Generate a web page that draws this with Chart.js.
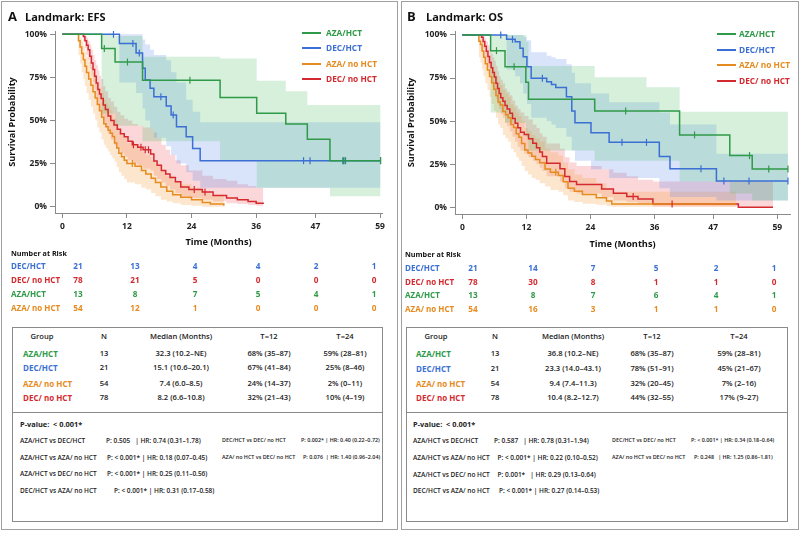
<!DOCTYPE html>
<html lang="en">
<head>
  <meta charset="UTF-8" />
  <title>Landmark EFS / OS</title>
  <script src="https://cdn.jsdelivr.net/npm/chart.js"></script>
  <style>
    body { margin: 0; width: 800px; height: 533px; background: #fff; position: relative; overflow: hidden;
           font-family: "Open Sans", "DejaVu Sans", sans-serif; }
    .panel { position: absolute; top: 1px; height: 529px; border: 1px solid #a0a0a0; box-sizing: border-box; }
    .box { position: absolute; border: 1px solid #8a8a8a; box-sizing: border-box; }
    .rule { position: absolute; height: 1px; background: #8a8a8a; }
    .plot { position: absolute; top: 0; height: 250px; }
    .t { position: absolute; white-space: pre; line-height: 1; font-weight: 700; }
    .key { position: absolute; height: 2px; width: 19px; }
  </style>
</head>
<body>
  <div class="panel" style="left:1px;width:397px"></div>
  <div class="panel" style="left:401px;width:398px"></div>
  <div class="box" style="left:12px;top:327px;width:371px;height:195px"></div>
  <div class="box" style="left:406px;top:327px;width:382px;height:195px"></div>
  <div class="rule" style="left:12px;top:412px;width:371px"></div>
  <div class="rule" style="left:406px;top:412px;width:382px"></div>
  <div class="plot" style="left:0;width:398px"><canvas id="efsChart"></canvas></div>
  <div class="plot" style="left:400px;width:400px"><canvas id="osChart"></canvas></div>

  <script>
    // ---- values (months, survival %) ----
    const groups = ['AZA/HCT', 'DEC/HCT', 'AZA/ no HCT', 'DEC/ no HCT'];
    const xTicks = [0, 12, 24, 36, 47, 59];
    const yTicks = [0, 25, 50, 75, 100];

    // Panel A: landmark EFS
    const efsAzaHctT = [0, 7.3, 9.8, 14.9, 29.3, 36.1, 41.5, 45.5, 49.7, 59.1];
    const efsAzaHctS = [100, 91.7, 83.9, 73.4, 63.3, 54.2, 48.0, 39.1, 26.7, 26.7];
    const efsAzaHctHi = [100, 100, 99, 87, 86, 73, 67, 59, 59, 59];
    const efsAzaHctLo = [100, 54, 47, 38, 26.5, 11, 11, 11, 6, 6];
    const efsAzaHctCens = [7.8, 12.1, 23.7, 52.2, 52.6, 59.1];

    const efsDecHctT = [0, 10.6, 13.7, 14.9, 15.4, 16.3, 17.0, 19.3, 20.2, 21.2, 23.0, 24.2, 25.6, 59.1];
    const efsDecHctS = [100, 94.7, 89.2, 80.3, 73.5, 68.7, 63.8, 58.4, 53.2, 46.4, 40.6, 33.8, 26.7, 26.7];
    const efsDecHctHi = [100, 100, 100, 97, 94, 91, 88, 85, 78, 72, 62, 55, 49, 49];
    const efsDecHctLo = [100, 72, 66, 57, 50, 45, 40, 35, 30, 25, 20, 15, 11, 11];
    const efsDecHctCens = [9.5, 13.1, 14.3, 18.3, 20.6, 44.8, 46.0, 52.1, 52.5, 59.1];

    const efsAzaNoT = [0, 3.0, 3.3, 3.6, 3.9, 4.2, 4.5, 4.9, 5.3, 5.7, 6.1, 6.5, 6.9, 7.3, 7.7, 8.1, 8.5, 8.9, 9.3, 9.7,
      10.1, 10.5, 11.0, 11.5, 12.0, 13.5, 14.7, 15.5, 16.5, 17.3, 18.3, 19.4, 20.5, 22.0, 24.0, 26.0, 27.5, 30.0];
    const efsAzaNoS = [100, 96.3, 92.6, 88.9, 85.2, 81.5, 77.8, 74.1, 70.4, 66.7, 63.0, 59.3, 55.6, 51.9, 48.1, 46.3, 44.4, 42.6, 40.7, 37.0,
      34.0, 31.0, 29.0, 27.0, 25.0, 23.5, 21.0, 19.0, 16.5, 14.0, 11.5, 9.0, 7.0, 5.5, 4.0, 2.5, 1.5, 0.5];
    const efsAzaNoHi = [100, 100, 98, 96, 93, 90, 87, 84, 81, 78, 75, 72, 69, 66, 62, 60, 58, 56, 54, 51,
      48, 44, 42, 40, 37, 35, 32, 30, 27, 24, 21, 18, 15, 13, 11, 9, 7, 5];
    const efsAzaNoLo = [100, 88, 83, 78, 74, 70, 66, 62, 58, 54, 50, 46, 43, 39, 36, 34, 32, 30, 28, 26,
      23, 20, 18, 16, 14, 13, 11, 10, 8, 6, 4, 3, 2, 1, 0.5, 0, 0, 0];
    const efsAzaNoCens = [13.0];

    const efsDecNoT = [0, 3.9, 4.2, 4.5, 4.8, 5.1, 5.4, 5.7, 6.0, 6.3, 6.6, 6.9, 7.2, 7.6, 8.0, 8.5, 9.0, 9.6, 10.2, 10.8,
      11.5, 12.2, 13.0, 14.0, 15.0, 16.4, 17.0, 17.6, 18.4, 19.2, 20.0, 21.0, 22.0, 23.5, 26.0, 28.0, 30.5, 32.5, 34.5, 36.0, 37.3];
    const efsDecNoS = [100, 98.7, 96.2, 93.6, 91.0, 87.2, 83.3, 79.5, 75.6, 71.8, 68.0, 65.4, 62.8, 59.0, 56.4, 52.6, 50.0, 47.4, 44.9, 42.3,
      40.5, 38.0, 36.0, 34.5, 33.0, 30.5, 26.5, 24.0, 21.0, 19.0, 17.0, 14.5, 11.5, 10.0, 8.5, 6.5, 5.0, 4.0, 3.0, 2.0, 1.5];
    const efsDecNoHi = [100, 100, 99, 98, 96, 94, 91, 88, 85, 82, 79, 76, 74, 70, 67, 63, 61, 58, 55, 53,
      51, 50, 48, 47, 46, 45, 43, 40, 36, 33, 30, 27, 24, 21, 18, 16, 15, 13, 12, 11, 11];
    const efsDecNoLo = [100, 96, 92, 88, 85, 80, 76, 72, 68, 63, 59, 56, 53, 49, 46, 42, 39, 36, 34, 31,
      29, 27, 25, 24, 22, 21, 18, 16, 14, 12, 10, 8, 6, 5, 4, 3, 2, 1.5, 1, 0.5, 0.3];
    const efsDecNoCens = [13.2, 14.6, 15.4, 16.0, 24.5, 26.5];

    // Panel B: landmark OS
    const osAzaHctT = [0, 5.3, 8.0, 11.9, 12.4, 24.8, 34.5, 40.7, 50.1, 54.3, 61.0];
    const osAzaHctS = [100, 90.9, 81.6, 72.5, 62.7, 55.9, 55.9, 42.0, 30.0, 22.2, 22.2];
    const osAzaHctHi = [100, 100, 100, 96, 82, 75.4, 69.6, 55.5, 55.5, 55.5, 55.5];
    const osAzaHctLo = [100, 55, 49, 41, 33, 27, 27, 15, 8, 4, 4];
    const osAzaHctCens = [6.4, 9.7, 30.6, 43.5, 53.8, 57.4, 61.0];

    const osDecHctT = [0, 8.3, 9.9, 10.8, 11.4, 12.1, 12.9, 15.8, 16.7, 17.5, 19.5, 20.5, 21.1, 24.1, 27.5, 36.9, 38.9, 47.6, 61.0];
    const osDecHctS = [100, 97.5, 96.0, 92.3, 87.4, 81.6, 74.9, 72.9, 71.2, 69.5, 64.2, 55.9, 49.1, 43.3, 37.7, 29.4, 22.4, 15.2, 15.2];
    const osDecHctHi = [100, 100, 100, 100, 99, 97, 90, 88, 87, 86, 83, 78, 72, 66, 61, 55, 48, 31, 31];
    const osDecHctLo = [100, 80, 76, 72, 66, 60, 52, 50, 48, 46, 41, 33, 27, 22, 17, 11, 6, 4, 4];
    const osDecHctCens = [7.2, 9.4, 15.0, 29.9, 34.5, 44.7, 49.0, 53.7, 61.0];

    const osAzaNoT = [0, 3.1, 3.4, 3.7, 4.0, 4.3, 4.7, 5.1, 5.5, 5.9, 6.3, 6.7, 7.1, 7.6, 8.1, 8.6, 9.1, 9.6, 10.1, 10.6,
      11.1, 11.7, 12.3, 13.0, 13.7, 14.5, 15.5, 16.5, 18.0, 18.9, 19.8, 21.0, 22.5, 25.1, 27.0, 28.0, 51.3];
    const osAzaNoS = [100, 96.3, 94.4, 90.7, 87.0, 83.3, 79.6, 75.9, 72.2, 68.5, 64.8, 61.1, 59.3, 55.6, 53.7, 51.9, 48.1, 46.3, 42.6, 40.7,
      37.0, 33.3, 31.5, 29.6, 27.8, 25.9, 22.2, 20.4, 18.5, 14.8, 11.1, 9.3, 7.4, 5.6, 3.7, 1.9, 1.9];
    const osAzaNoHi = [100, 100, 98, 96, 94, 91, 88, 85, 82, 79, 76, 73, 71, 68, 66, 64, 60, 58, 55, 53,
      50, 46, 44, 42, 40, 38, 34, 32, 30, 26, 22, 19, 17, 14, 11, 9, 9];
    const osAzaNoLo = [100, 87, 84, 80, 76, 72, 68, 64, 60, 56, 52, 48, 46, 42, 40, 38, 34, 32, 29, 27,
      24, 21, 19, 17, 16, 14, 12, 10, 9, 7, 4, 3, 2, 1.5, 0.8, 0.3, 0.3];
    const osAzaNoCens = [17.5];

    const osDecNoT = [0, 3.6, 3.9, 4.2, 4.5, 4.8, 5.1, 5.4, 5.7, 6.0, 6.3, 6.6, 6.9, 7.2, 7.6, 8.0, 8.4, 8.9, 9.4, 9.9,
      10.4, 10.9, 11.6, 12.4, 13.2, 13.9, 14.5, 15.0, 15.8, 18.3, 19.2, 20.1, 21.4, 26.1, 28.3, 30.8, 32.9, 35.7, 51.7, 58.2];
    const osDecNoS = [100, 98.7, 96.2, 93.5, 90.5, 87.5, 84.0, 81.0, 78.2, 75.6, 72.0, 69.0, 66.0, 63.5, 61.5, 59.0, 57.0, 54.5, 51.5, 48.7,
      46.2, 43.6, 42.3, 39.7, 37.2, 34.6, 32.1, 29.5, 25.6, 22.4, 17.9, 15.0, 13.2, 10.6, 8.1, 6.2, 4.8, 1.9, 0, 0];
    const osDecNoHi = [100, 100, 99, 98, 96, 94, 92, 89, 87, 85, 82, 79, 76, 74, 72, 69, 67, 65, 62, 59,
      57, 55, 53, 51, 48, 46, 43, 41, 37, 34, 29, 26, 24, 22, 20, 18, 16, 15, 15, 15];
    const osDecNoLo = [100, 95, 92, 88, 84, 81, 77, 73, 70, 67, 63, 60, 57, 54, 52, 49, 47, 44, 41, 38,
      35, 33, 31, 29, 27, 25, 23, 21, 18, 15, 11, 9, 8, 6, 4, 3, 2, 0.5, 0, 0];
    const osDecNoCens = [32.0, 39.3];

    // number at risk at xTicks, rows in riskGroups order
    const riskGroups = ['DEC/HCT', 'DEC/ no HCT', 'AZA/HCT', 'AZA/ no HCT'];
    const efsRisk = [[21, 13, 4, 4, 2, 1], [78, 21, 5, 0, 0, 0], [13, 8, 7, 5, 4, 1], [54, 12, 1, 0, 0, 0]];
    const osRisk = [[21, 14, 7, 5, 2, 1], [78, 30, 8, 1, 1, 0], [13, 8, 7, 6, 4, 1], [54, 16, 3, 1, 1, 0]];

    // summary tables, rows in groups order
    const summaryHead = ['Group', 'N', 'Median (Months)', 'T=12', 'T=24'];
    const efsN = ['13', '21', '54', '78'];
    const efsMedian = ['32.3 (10.2–NE)', '15.1 (10.6–20.1)', '7.4 (6.0–8.5)', '8.2 (6.6–10.8)'];
    const efsT12 = ['68% (35–87)', '67% (41–84)', '24% (14–37)', '32% (21–43)'];
    const efsT24 = ['59% (28–81)', '25% (8–46)', '2% (0–11)', '10% (4–19)'];
    const osN = ['13', '21', '54', '78'];
    const osMedian = ['36.8 (10.2–NE)', '23.3 (14.0–43.1)', '9.4 (7.4–11.3)', '10.4 (8.2–12.7)'];
    const osT12 = ['68% (35–87)', '78% (51–91)', '32% (20–45)', '44% (32–55)'];
    const osT24 = ['59% (28–81)', '45% (21–67)', '7% (2–16)', '17% (9–27)'];

    const pairs = ['AZA/HCT vs DEC/HCT', 'AZA/HCT vs AZA/ no HCT', 'AZA/HCT vs DEC/ no HCT', 'DEC/HCT vs AZA/ no HCT',
      'DEC/HCT vs DEC/ no HCT', 'AZA/ no HCT vs DEC/ no HCT'];
    const efsPairStats = ['P: 0.505   | HR: 0.74 (0.31–1.78)', 'P: < 0.001* | HR: 0.18 (0.07–0.45)',
      'P: < 0.001* | HR: 0.25 (0.11–0.56)', 'P: < 0.001* | HR: 0.31 (0.17–0.58)',
      'P: 0.002* | HR: 0.40 (0.22–0.72)', 'P: 0.076  | HR: 1.40 (0.96–2.04)'];
    const osPairStats = ['P: 0.587   | HR: 0.78 (0.31–1.94)', 'P: < 0.001* | HR: 0.22 (0.10–0.52)',
      'P: 0.001*   | HR: 0.29 (0.13–0.64)', 'P: < 0.001* | HR: 0.27 (0.14–0.53)',
      'P: < 0.001* | HR: 0.34 (0.18–0.64)', 'P: 0.248   | HR: 1.25 (0.86–1.81)'];

    // ---- styling ----
    const FONT = '"Open Sans", "DejaVu Sans", sans-serif';
    const COLORS = { 'AZA/HCT': '#2f9a48', 'DEC/HCT': '#3b6fd4', 'AZA/ no HCT': '#e58b1f', 'DEC/ no HCT': '#d42a2f' };
    const BANDS = { 'AZA/HCT': 'rgba(70,185,95,0.22)', 'DEC/HCT': 'rgba(80,130,235,0.22)',
      'AZA/ no HCT': 'rgba(245,165,80,0.28)', 'DEC/ no HCT': 'rgba(240,95,105,0.25)' };

    function stepAt(T, S, t) {
      let v = S[0];
      for (let i = 0; i < T.length; i++) if (T[i] <= t) v = S[i];
      return v;
    }

    function kmChart(id, curves, o) {
      const ds = [];
      // confidence bands first (drawn underneath)
      curves.forEach(c => {
        ds.push({ data: c.t.map((x, i) => ({ x, y: c.hi[i] })), stepped: true, borderWidth: 0,
          borderColor: 'rgba(0,0,0,0)', pointRadius: 0, fill: '+1', backgroundColor: BANDS[c.name], order: 10 });
        ds.push({ data: c.t.map((x, i) => ({ x, y: c.lo[i] })), stepped: true, borderWidth: 0,
          borderColor: 'rgba(0,0,0,0)', pointRadius: 0, fill: false, order: 10 });
      });
      curves.forEach(c => {
        ds.push({ data: c.t.map((x, i) => ({ x, y: c.s[i] })), stepped: true, borderColor: COLORS[c.name],
          borderWidth: 1.5, pointRadius: 0, fill: false, order: 2 });
        ds.push({ data: c.cens.map(x => ({ x, y: stepAt(c.t, c.s, x) })), showLine: false, pointStyle: 'line',
          pointRotation: 90, pointRadius: 3.5, pointBorderWidth: 1.2, pointBorderColor: COLORS[c.name], order: 1 });
      });

      const tickFont = { family: FONT, size: 8.5, weight: 'bold' };
      const titleFont = { family: FONT, size: 9.2, weight: 'bold' };

      new Chart(document.getElementById(id), {
        type: 'line',
        data: { datasets: ds },
        options: {
          responsive: true, maintainAspectRatio: false, animation: false, events: [],
          layout: { padding: { top: o.top, right: o.right, left: 0, bottom: 0 } },
          plugins: { legend: { display: false }, tooltip: { enabled: false } },
          scales: {
            x: {
              type: 'linear', min: o.xMin, max: o.xMax,
              afterBuildTicks: s => { s.ticks = xTicks.map(v => ({ value: v })); },
              ticks: { font: tickFont, color: '#222', padding: 3, maxRotation: 0, autoSkip: false },
              grid: { drawOnChartArea: false, tickLength: 5, color: '#8a8a8a' },
              border: { color: '#8a8a8a' },
              title: { display: true, text: 'Time (Months)', font: titleFont, color: '#111',
                padding: { top: 4, bottom: o.xTitlePad } },
              afterFit: s => { s.height = o.xH; }
            },
            y: {
              min: o.yMin, max: o.yMax,
              afterBuildTicks: s => { s.ticks = yTicks.map(v => ({ value: v })); },
              ticks: { font: tickFont, color: '#222', padding: 3, callback: v => v + '%' },
              grid: { drawOnChartArea: false, tickLength: 5, color: '#8a8a8a' },
              border: { color: '#8a8a8a' },
              title: { display: true, text: 'Survival Probability', font: titleFont, color: '#111',
                padding: { top: o.yTitlePad, bottom: 0 } },
              afterFit: s => { s.width = o.yW; }
            }
          }
        }
      });
    }

    function put(text, x, y, size, color, align, weight) {
      const el = document.createElement('div');
      el.className = 't';
      el.textContent = text;
      el.style.left = x + 'px';
      el.style.top = y + 'px';
      el.style.fontSize = size + 'px';
      el.style.color = color || '#1a1a1a';
      if (weight) el.style.fontWeight = weight;
      const dx = align === 'c' ? '-50%' : align === 'r' ? '-100%' : '0';
      el.style.transform = 'translate(' + dx + ',-50%)';
      document.body.appendChild(el);
    }

    function legend(x, textX, ys) {
      groups.forEach((g, i) => {
        const k = document.createElement('div');
        k.className = 'key';
        k.style.left = x + 'px';
        k.style.top = Math.round(ys[i] - 1) + 'px';
        k.style.background = COLORS[g];
        document.body.appendChild(k);
        put(g, textX, ys[i], 8.3, COLORS[g]);
      });
    }

    function riskTable(rows, L) {
      put('Number at Risk', L.x, L.head, 7.2, '#111');
      riskGroups.forEach((g, r) => {
        put(g, L.x, L.rows[r], 8, COLORS[g]);
        rows[r].forEach((n, c) => put(String(n), L.cols[c], L.rows[r], 8.2, COLORS[g], 'c'));
      });
    }

    function summary(N, med, t12, t24, stats, L) {
      summaryHead.forEach((h, c) => put(h, L.cols[c], L.head, 7.6, '#222', 'c', 600));
      groups.forEach((g, r) => {
        put(g, L.labelX, L.rows[r], 8, COLORS[g]);
        [N[r], med[r], t12[r], t24[r]].forEach((v, c) => put(v, L.cols[c + 1], L.rows[r], 7.6, '#222', 'c', 600));
      });
      put('P-value:  < 0.001*', L.px, L.pY, 7.4, '#222');
      for (let i = 0; i < 4; i++) {
        put(pairs[i], L.px, L.cmpY[i], 6.5, '#222', 'l', 600);
        put(stats[i], L.pX[i], L.cmpY[i], 6.5, '#222', 'l', 600);
      }
      for (let i = 4; i < 6; i++) {
        put(pairs[i], L.rx, L.cmpY[i - 4], 5.4, '#222', 'l', 600);
        put(stats[i], L.rpX[i - 4], L.cmpY[i - 4], 5.4, '#222', 'l', 600);
      }
    }

    const efsCurves = [
      { name: 'AZA/HCT', t: efsAzaHctT, s: efsAzaHctS, lo: efsAzaHctLo, hi: efsAzaHctHi, cens: efsAzaHctCens },
      { name: 'DEC/HCT', t: efsDecHctT, s: efsDecHctS, lo: efsDecHctLo, hi: efsDecHctHi, cens: efsDecHctCens },
      { name: 'AZA/ no HCT', t: efsAzaNoT, s: efsAzaNoS, lo: efsAzaNoLo, hi: efsAzaNoHi, cens: efsAzaNoCens },
      { name: 'DEC/ no HCT', t: efsDecNoT, s: efsDecNoS, lo: efsDecNoLo, hi: efsDecNoHi, cens: efsDecNoCens }
    ];
    const osCurves = [
      { name: 'AZA/HCT', t: osAzaHctT, s: osAzaHctS, lo: osAzaHctLo, hi: osAzaHctHi, cens: osAzaHctCens },
      { name: 'DEC/HCT', t: osDecHctT, s: osDecHctS, lo: osDecHctLo, hi: osDecHctHi, cens: osDecHctCens },
      { name: 'AZA/ no HCT', t: osAzaNoT, s: osAzaNoS, lo: osAzaNoLo, hi: osAzaNoHi, cens: osAzaNoCens },
      { name: 'DEC/ no HCT', t: osDecNoT, s: osDecNoS, lo: osDecNoLo, hi: osDecNoHi, cens: osDecNoCens }
    ];

    kmChart('efsChart', efsCurves, { top: 31, right: 16, xH: 37, yW: 55, xMin: -1.36, xMax: 59.37,
      yMin: -3.65, yMax: 101.9, xTitlePad: 2, yTitlePad: 7 });
    kmChart('osChart', osCurves, { top: 31, right: 10, xH: 36, yW: 55, xMin: -1.37, xMax: 61.38,
      yMin: -3.9, yMax: 102.3, xTitlePad: 0, yTitlePad: 6 });

    // panel titles
    put('A', 8, 16, 13, '#111');
    put('Landmark: EFS', 25, 16, 11, '#111');
    put('B', 407, 16, 13, '#111');
    put('Landmark: OS', 426, 16, 11, '#111');

    legend(302, 326, [33, 48, 63.5, 79]);
    legend(717, 739, [33.5, 49.5, 65, 80.5]);

    riskTable(efsRisk, { x: 11, head: 253.5, rows: [266, 280, 293.5, 307.5], cols: [78, 135, 195, 258, 316, 374] });
    riskTable(osRisk, { x: 405, head: 254.5, rows: [267.5, 281.5, 295, 309], cols: [473, 533, 593, 656, 716, 774] });

    summary(efsN, efsMedian, efsT12, efsT24, efsPairStats, {
      head: 337, cols: [42, 104, 181, 269, 345], labelX: 23, rows: [354, 368, 383.5, 398],
      px: 20, pY: 425, cmpY: [441, 457.5, 474, 490.5], pX: [106, 107, 107, 114], rx: 222, rpX: [301, 303]
    });
    summary(osN, osMedian, osT12, osT24, osPairStats, {
      head: 337, cols: [436, 495, 573, 652, 739], labelX: 416, rows: [354, 368.5, 384, 398],
      px: 413, pY: 425, cmpY: [441, 457.5, 474.5, 490.5], pX: [494, 497.5, 497.5, 499], rx: 612, rpX: [691, 694]
    });
  </script>
</body>
</html>
